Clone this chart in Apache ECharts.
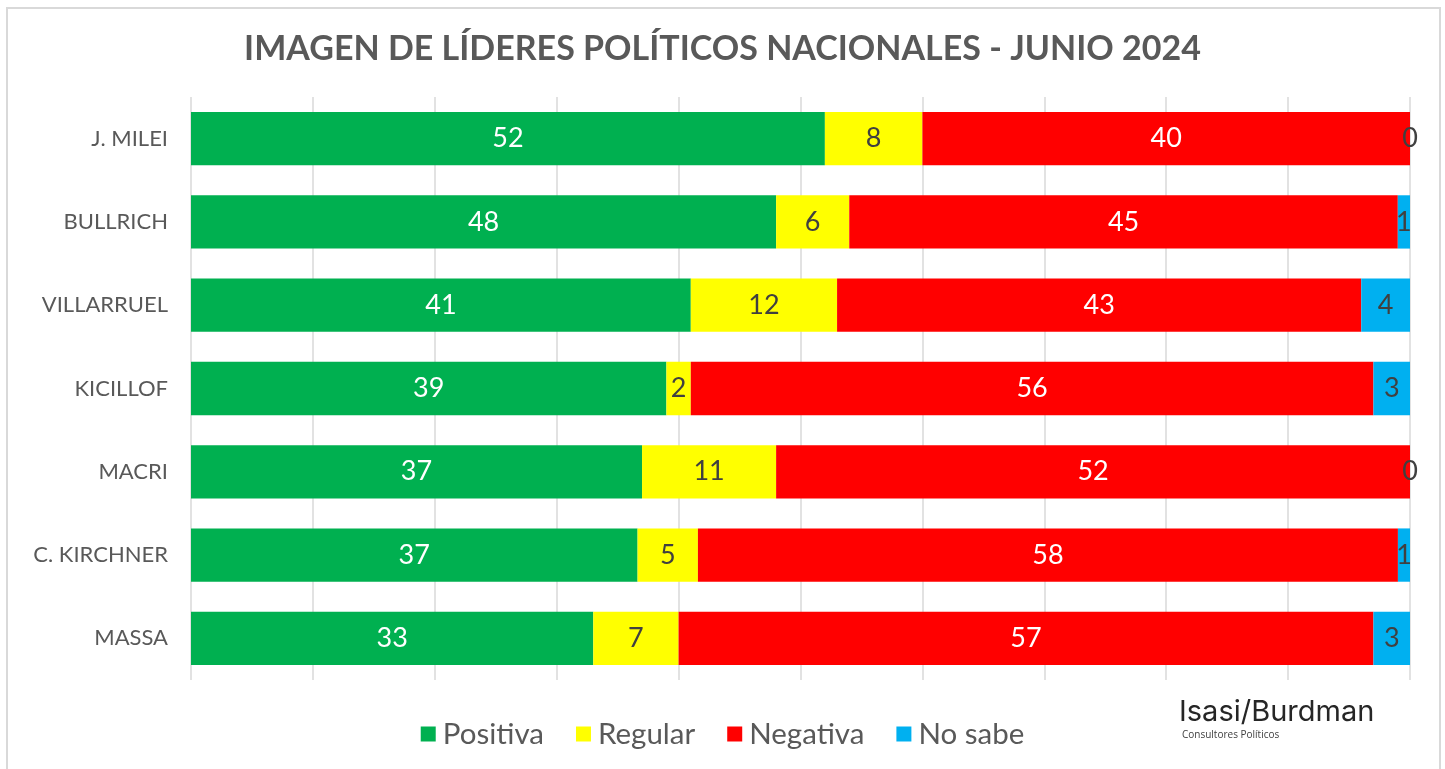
<!DOCTYPE html>
<html>
<head>
<meta charset="utf-8">
<script src="https://cdn.jsdelivr.net/npm/echarts@6/dist/echarts.min.js"></script>
<style>
  html, body { margin: 0; padding: 0; background: #ffffff; }
  #chart { width: 1445px; height: 769px; }
</style>
</head>
<body>
<div id="chart"></div>
<script>
// Leaders, top to bottom
var leaders = ['J. MILEI', 'BULLRICH', 'VILLARRUEL', 'KICILLOF', 'MACRI', 'C. KIRCHNER', 'MASSA'];

// Survey answers (%), one array per answer
var positiva = [52, 48, 41, 39, 37, 37, 33];
var regular  = [8, 6, 12, 2, 11, 5, 7];
var negativa = [40, 45, 43, 56, 52, 58, 57];
var noSabe   = [0, 1, 4, 3, 0, 1, 3];

var seriesNames  = ['Positiva', 'Regular', 'Negativa', 'No sabe'];
var seriesColors = ['#00B050', '#FFFF00', '#FF0000', '#00B0F0'];
var labelColors  = ['#ffffff', '#404040', '#ffffff', '#404040'];

var raw = [positiva, regular, negativa, noSabe];

// Each row is drawn as a 100% stacked bar: share of the row total
var rowTotals = leaders.map(function (_, i) {
  return raw.reduce(function (s, arr) { return s + arr[i]; }, 0);
});

var series = raw.map(function (arr, k) {
  return {
    name: seriesNames[k],
    type: 'bar',
    stack: 'total',
    barWidth: '64%',
    itemStyle: { color: seriesColors[k] },
    label: {
      show: true,
      position: 'inside',
      color: labelColors[k],
      fontFamily: 'Lato',
      fontSize: 27,
      formatter: function (p) { return arr[p.dataIndex]; }
    },
    data: arr.map(function (v, i) { return v / rowTotals[i] * 100; })
  };
});

var chart = echarts.init(document.getElementById('chart'));
chart.setOption({
  animation: false,
  title: {
    text: 'IMAGEN DE LÍDERES POLÍTICOS NACIONALES - JUNIO 2024',
    left: 'center',
    top: 27,
    textStyle: { fontFamily: 'Lato', fontWeight: 'bold', fontSize: 34, color: '#595959' }
  },
  legend: {
    bottom: 15,
    left: 'center',
    itemWidth: 15,
    itemHeight: 15,
    itemGap: 32,
    icon: 'rect',
    textStyle: { fontFamily: 'Lato', fontSize: 29.5, color: '#595959', padding: [0, 0, 0, 2] },
    data: seriesNames
  },
  grid: { left: 191, right: 35, top: 97, bottom: 89 },
  xAxis: {
    type: 'value',
    min: 0,
    max: 100,
    interval: 10,
    axisLabel: { show: false },
    axisLine: { show: false },
    axisTick: { show: false },
    splitLine: { show: true, lineStyle: { color: '#d9d9d9', width: 1.5 } }
  },
  yAxis: {
    type: 'category',
    inverse: true,
    data: leaders,
    axisLine: { show: false },
    axisTick: { show: false },
    axisLabel: { margin: 23, fontFamily: 'Lato', fontSize: 22, color: '#595959' }
  },
  graphic: [
    {
      type: 'rect',
      shape: { x: 7, y: 8, width: 1433, height: 800 },
      style: { fill: 'none', stroke: '#d9d9d9', lineWidth: 2 },
      silent: true
    },
    {
      type: 'text',
      left: 1179,
      top: 698,
      style: { text: 'Isasi/Burdman', fontFamily: 'Inter', fontSize: 29, fill: '#262626' }
    },
    {
      type: 'text',
      left: 1182,
      top: 730,
      style: { text: 'Consultores Políticos', fontFamily: 'Open Sans', fontSize: 10, fill: '#404040' }
    }
  ],
  series: series
});
</script>
</body>
</html>
